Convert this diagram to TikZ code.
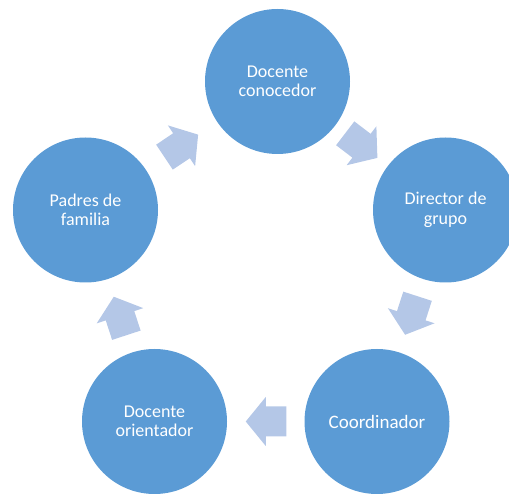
\documentclass[tikz,border=0pt]{standalone}
\usepackage{fontspec}
\setmainfont{Carlito}
\usetikzlibrary{calc}
\definecolor{circblue}{HTML}{5B9BD5}
\definecolor{arrblue}{HTML}{B4C7E7}
\tikzset{
  x=1pt,y=1pt,
  stage/.style={circle, fill=circblue, minimum size=145pt, inner sep=0pt,
    text=white, align=center, font=\fontsize{18}{19.5}\selectfont},
  cyclearrow/.pic={\fill[arrblue] (-20.5,-15) -- (0,-15) -- (0,-24.5) -- (20,0)
     -- (0,24.5) -- (0,15) -- (-20.5,15) -- cycle;}
}
\begin{document}
\begin{tikzpicture}
\useasboundingbox (0,0) rectangle (509,493);
\clip (0,0) rectangle (509,493);
\node[stage] (A) at (277.5,411.5) {Docente\\conocedor};
\node[stage] (B) at (445.5,283) {Director de\\grupo};
\node[stage, font=\fontsize{19}{21}\selectfont] (C) at (377,71.5) {Coordinador};
\node[stage] (D) at (154.5,71.5) {Docente\\orientador};
\node[stage] (E) at (85.5,283) {Padres de\\familia};
\pic[rotate=33.8] at ($(E)!0.5!(A)$) {cyclearrow};
\pic[rotate=-37.4] at ($(A)!0.5!(B)$) {cyclearrow};
\pic[rotate=-107.9] at ($(B)!0.5!(C)$) {cyclearrow};
\pic[rotate=180] at ($(C)!0.5!(D)$) {cyclearrow};
\pic[rotate=108.1] at ($(D)!0.5!(E)$) {cyclearrow};
\end{tikzpicture}
\end{document}
